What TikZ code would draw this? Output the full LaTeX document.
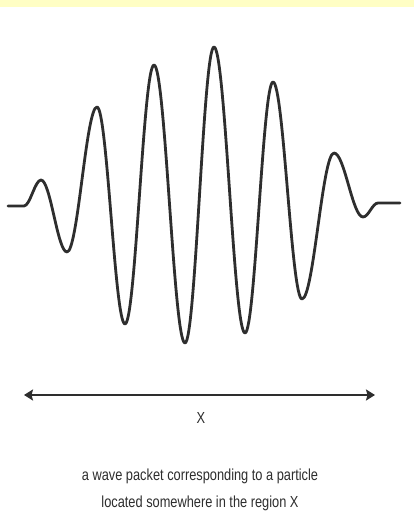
\documentclass[tikz,border=0pt]{standalone}
\usepackage{fontspec}
\setmainfont{Liberation Sans}
\usetikzlibrary{arrows.meta}
\definecolor{band}{HTML}{FFFEC4}
\definecolor{ink}{HTML}{2E2E2E}
\tikzset{
  wave/.style={draw=ink, line width=2.8pt, line join=round, line cap=round},
  rangearrow/.style={draw=ink, line width=2.6pt, arrows={Stealth[length=9pt,width=11pt,inset=1.5pt]-Stealth[length=9pt,width=11pt,inset=1.5pt]}},
  lbl/.style={text=ink, inner sep=0pt, font=\fontsize{16}{18}\selectfont},
  caption/.style={text=ink, inner sep=0pt, align=center, font=\fontsize{16}{27}\selectfont}
}
\begin{document}
\begin{tikzpicture}[x=1pt,y=-1pt]
\useasboundingbox (0,0) rectangle (414,532);
\fill[white] (0,0) rectangle (414,532);
\fill[band] (0,0) rectangle (414,7);
% wave packet
\draw[wave] (8,206) -- (24,206)
  .. controls (30,206) and (35,180) .. (41,180)
  .. controls (50.5,180) and (57.5,252) .. (67,252)
  .. controls (77.9,252) and (86.1,107) .. (97,107)
  .. controls (107.2,107) and (114.8,324) .. (125,324)
  .. controls (135.6,324) and (143.4,65) .. (154,65)
  .. controls (165.3,65) and (173.7,343) .. (185,343)
  .. controls (195.6,343) and (203.4,47) .. (214,47)
  .. controls (225.3,47) and (233.7,333) .. (245,333)
  .. controls (255.2,333) and (262.8,82) .. (273,82)
  .. controls (283.6,82) and (291.4,299) .. (302,299)
  .. controls (313.6,299) and (322.4,153) .. (334,153)
  .. controls (344.6,153) and (352.4,217) .. (363,217)
  .. controls (368.5,217) and (372.5,203) .. (378,203)
  -- (400,203);
% range arrow
\coordinate (aL) at (24,395);
\coordinate (aR) at (375,395);
\draw[rangearrow] (aL) -- (aR);
\node[lbl] (xl) at (201,418) {\scalebox{0.8}[1]{X}};
\node[caption] (cap) at (200,490) {\scalebox{0.8}[1]{a wave packet corresponding to a particle}\\\scalebox{0.8}[1]{located somewhere in the region X}};
\end{tikzpicture}
\end{document}
